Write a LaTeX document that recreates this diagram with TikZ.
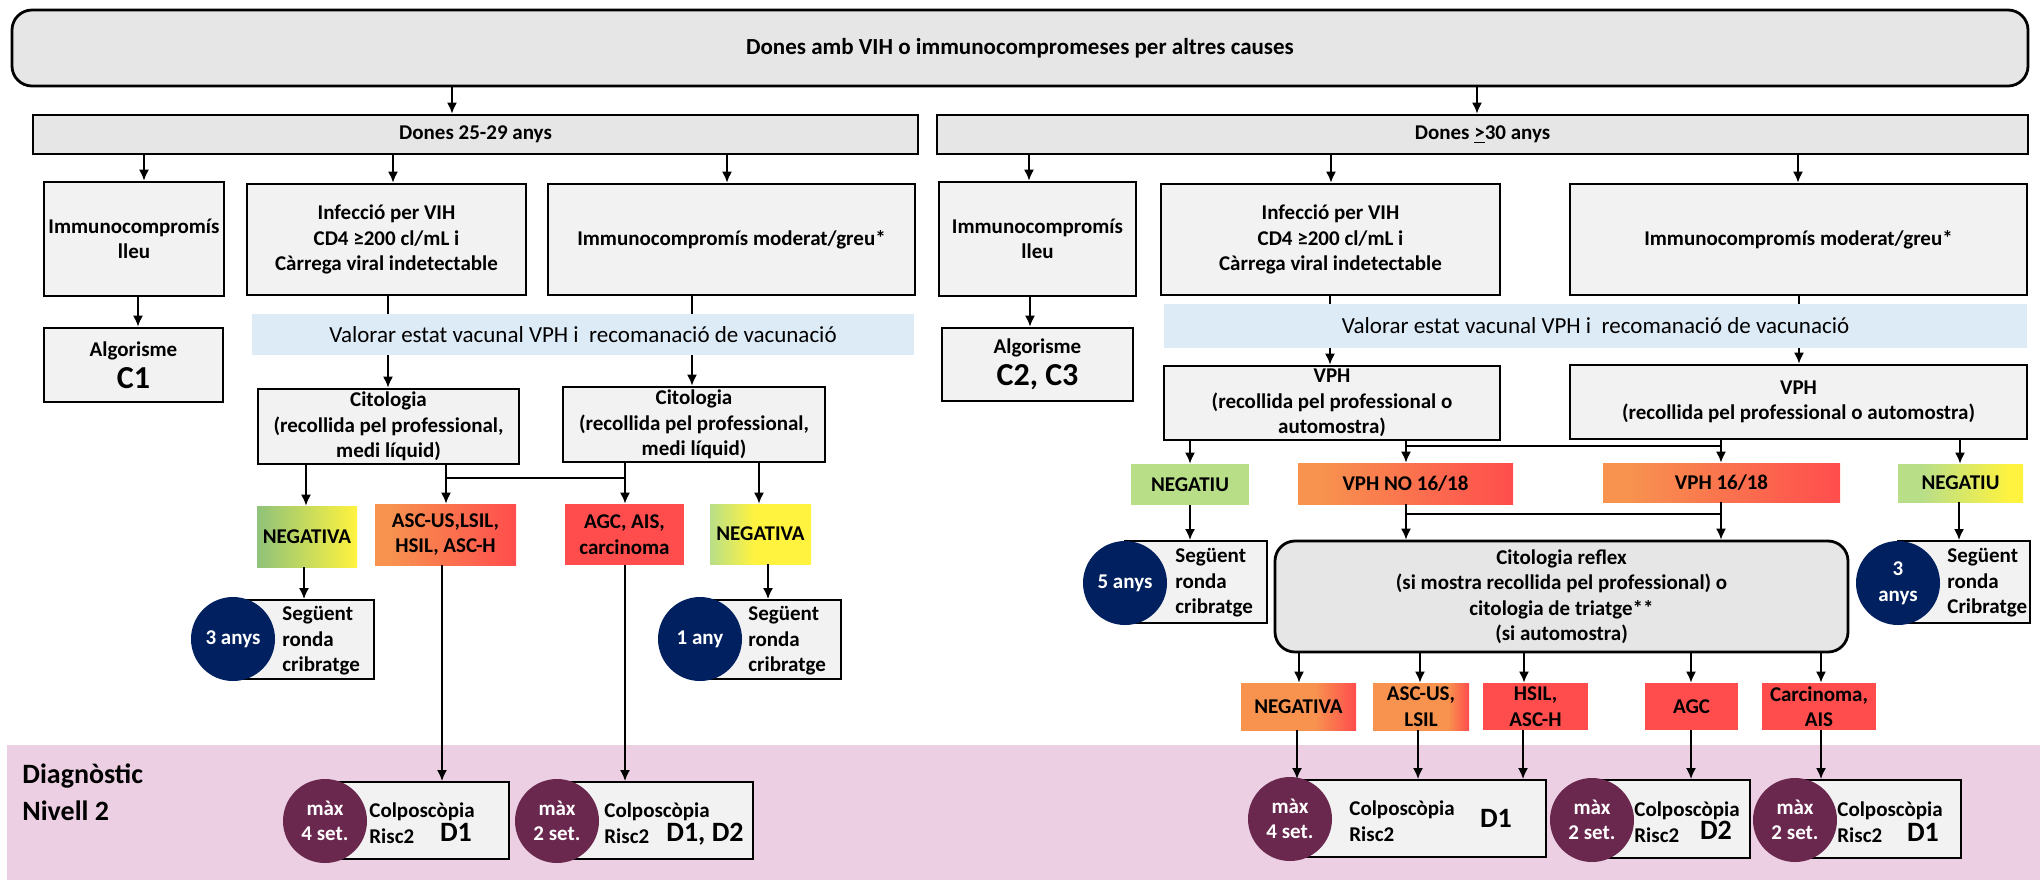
\documentclass[tikz,border=0pt]{standalone}
\usepackage{fontspec}
\setmainfont{Carlito}
\usetikzlibrary{arrows.meta}

\definecolor{boxgray}{HTML}{F2F2F2}
\definecolor{headgray}{HTML}{E6E6E6}
\definecolor{barblue}{HTML}{DDEBF7}
\definecolor{navy}{HTML}{002060}
\definecolor{plum}{HTML}{6B284F}
\definecolor{band}{HTML}{ECCFE3}
\definecolor{okgreen}{HTML}{8FC27A}
\definecolor{litegreen}{HTML}{B9DE88}
\definecolor{yel}{HTML}{FFF33F}
\definecolor{orng}{HTML}{F7934F}
\definecolor{redd}{HTML}{FF4D4D}

% horizontal shadings (path spans 25bp..75bp)
\pgfdeclarehorizontalshading{gy}{100bp}{color(0bp)=(okgreen); color(25bp)=(okgreen); color(75bp)=(yel); color(100bp)=(yel)}
\pgfdeclarehorizontalshading{gyfast}{100bp}{color(0bp)=(litegreen); color(25bp)=(litegreen); color(47bp)=(yel); color(100bp)=(yel)}
\pgfdeclarehorizontalshading{gyslow}{100bp}{color(0bp)=(litegreen); color(35bp)=(litegreen); color(70bp)=(yel); color(100bp)=(yel)}
\pgfdeclarehorizontalshading{orrd}{100bp}{color(0bp)=(orng); color(30bp)=(orng); color(75bp)=(redd); color(100bp)=(redd)}
\pgfdeclarehorizontalshading{orrdlate}{100bp}{color(0bp)=(orng); color(57bp)=(orng); color(75bp)=(redd); color(100bp)=(redd)}
\pgfdeclarehorizontalshading{orrdedge}{100bp}{color(0bp)=(orng); color(64bp)=(orng); color(75bp)=(redd); color(100bp)=(redd)}

\newcommand\ftB{\fontsize{10.5}{12.75}\selectfont\bfseries}
\newcommand\ftH{\fontsize{11.5}{13}\selectfont\bfseries}
\newcommand\ftR{\fontsize{11.5}{13}\selectfont}
\newcommand\ftD{\fontsize{14}{14}\selectfont\bfseries}
\newcommand\ftC{\fontsize{16}{16}\selectfont\bfseries}
\newcommand\ftN{\fontsize{14}{18.5}\selectfont\bfseries}

% vertical connector at a given x between two named nodes
\newcommand\vlink[4][arr]{\draw[#1] (#2.south -| #4,0) -- (#3.north -| #4,0);}

\tikzset{
  R/.style n args={4}{at={({(#1+#3)/2},{(#2+#4)/2})},
    minimum width={(#3-#1)*0.5pt}, minimum height={(#4-#2)*0.5pt}},
  box/.style={draw, line width=1.4pt, fill=boxgray, inner sep=0pt, align=center, font=\ftB},
  thinbox/.style={draw, line width=1pt, fill=boxgray, inner sep=0pt},
  res/.style={inner sep=0pt, align=center, font=\ftB},
  navydot/.style={circle, fill=navy, text=white, minimum size=42pt, inner sep=0pt, align=center, font=\ftB},
  plumdot/.style={circle, fill=plum, text=white, minimum size=42pt, inner sep=0pt, align=center, font=\ftB},
  lbl/.style={anchor=west, align=left, inner sep=0pt, font=\ftB},
  arr/.style={-{Latex[length=5.5pt,width=5pt]}, line width=0.8pt},
  ln/.style={line width=0.8pt},
}

\begin{document}
\begin{tikzpicture}[x=0.5pt,y=-0.5pt]
\useasboundingbox (0,0) rectangle (2040,880);

% level-2 diagnosis band
\fill[band] (7,745) rectangle (2040,880);
\node[anchor=west, align=left, inner sep=0pt, font=\ftN] (nivell) at (22,792) {Diagnòstic\\Nivell 2};

% headers
\node[box, fill=headgray, rounded corners=10pt, R={12}{10}{2028}{86}, font=\ftH] (top) {Dones amb VIH o immunocompromeses per altres causes};
\node[box, fill=headgray, R={33}{115}{918}{154}] (d25) {Dones 25-29 anys};
\node[box, fill=headgray, R={937}{115}{2028}{154}] (d30) {Dones \underline{>}30 anys};
\vlink{top}{d25}{452}
\vlink{top}{d30}{1477}

% groups
\node[box, R={44}{182}{224}{296}] (L1) {Immunocompromís\\lleu};
\node[box, R={247}{184}{526}{295}] (L2) {Infecció per VIH\\CD4 ≥200 cl/mL i\\Càrrega viral indetectable};
\node[box, R={548}{184}{915}{295}] (L3) {Immunocompromís moderat/greu*};
\node[box, R={939}{182}{1136}{296}] (R1) {Immunocompromís\\lleu};
\node[box, R={1161}{184}{1500}{295}] (R2) {Infecció per VIH\\CD4 ≥200 cl/mL i\\Càrrega viral indetectable};
\node[box, R={1570}{184}{2027}{295}] (R3) {Immunocompromís moderat/greu*};
\vlink{d25}{L1}{144}
\vlink{d25}{L2}{393}
\vlink{d25}{L3}{727}
\vlink{d30}{R1}{1029}
\vlink{d30}{R2}{1331}
\vlink{d30}{R3}{1798}

% algorithms
\node[box, R={44}{328}{223}{402}] (AL) {Algorisme\\[3pt]{\ftC C1}};
\node[box, R={942}{328}{1133}{401}] (AR) {Algorisme\\[3pt]{\ftC C2, C3}};
\vlink{L1}{AL}{138}
\vlink{R1}{AR}{1030}

% vaccination bars
\node[fill=barblue, inner sep=0pt, R={252}{314}{914}{355}, font=\ftR] (VL) {Valorar estat vacunal VPH i\ \ recomanació de vacunació};
\node[fill=barblue, inner sep=0pt, R={1164}{304}{2027}{348}, font=\ftR] (VR) {Valorar estat vacunal VPH i\ \ recomanació de vacunació};
\vlink[ln]{L2}{VL}{388}
\vlink[ln]{L3}{VL}{692}
\vlink[ln]{R2}{VR}{1330}
\vlink[ln]{R3}{VR}{1799}

% tests
\node[box, R={258}{389}{519}{464}] (CL) {Citologia\\(recollida pel professional,\\medi líquid)};
\node[box, R={563}{387}{825}{462}] (CR) {Citologia\\(recollida pel professional,\\medi líquid)};
\node[box, R={1164}{366}{1500}{440}] (PL) {VPH\\(recollida pel professional o\\automostra)};
\node[box, R={1570}{365}{2027}{439}] (PR) {VPH\\(recollida pel professional o automostra)};
\vlink{VL}{CL}{388}
\vlink{VL}{CR}{692}
\vlink{VR}{PL}{1330}
\vlink{VR}{PR}{1799}

% cytology results (25-29)
\node[res, shade, shading=gy, R={257}{506}{357}{567}] (NL1) {NEGATIVA};
\node[res, shade, shading=orrd, R={375}{504}{516}{565}] (AS) {ASC-US,LSIL,\\HSIL, ASC-H};
\node[res, fill=redd, R={565}{504}{684}{565}] (AG) {AGC, AIS,\\carcinoma};
\node[res, shade, shading=gyfast, R={710}{504}{811}{564}] (NL2) {NEGATIVA};
\coordinate (jL) at (446,478);
\coordinate (jR) at (625,478);
\vlink{CL}{NL1}{306}
\vlink{CL}{AS}{446}
\vlink{CR}{AG}{625}
\vlink{CR}{NL2}{759}
\draw[ln] (jL) -- (jR);

% HPV results (30+)
\node[res, fill=litegreen, R={1131}{464}{1249}{505}] (NU1) {NEGATIU};
\node[res, shade, shading=orrd, R={1298}{463}{1513}{504}] (NO) {VPH NO 16/18};
\node[res, shade, shading=orrd, R={1603}{463}{1840}{502}] (V16) {VPH 16/18};
\node[res, shade, shading=gyslow, R={1898}{464}{2023}{502}] (NU2) {NEGATIU};
\coordinate (hL) at (1406,446);
\coordinate (hR) at (1721,446);
\vlink{PL}{NU1}{1190}
\vlink{PL}{NO}{1406}
\vlink{PR}{V16}{1721}
\vlink{PR}{NU2}{1960}
\draw[ln] (hL) -- (hR);

% reflex cytology
\node[box, fill=headgray, rounded corners=10pt, R={1275}{541}{1848}{652}] (CRX) {Citologia reflex\\(si mostra recollida pel professional) o\\citologia de triatge**\\(si automostra)};
\coordinate (rL) at (1406,514);
\coordinate (rR) at (1721,514);
\vlink{NO}{CRX}{1406}
\vlink{V16}{CRX}{1721}
\draw[ln] (rL) -- (rR);

% next screening round
\node[thinbox, R={233}{600}{374}{679}] (S1) {};
\node[lbl] (S1t) at (282,641) {Següent\\ronda\\cribratge};
\node[navydot] (S1c) at (233,639) {3 anys};
\node[thinbox, R={700}{600}{841}{679}] (S2) {};
\node[lbl] (S2t) at (748,641) {Següent\\ronda\\cribratge};
\node[navydot] (S2c) at (700,639) {1 any};
\node[thinbox, R={1125}{541}{1267}{623}] (S3) {};
\node[lbl] (S3t) at (1175,583) {Següent\\ronda\\cribratge};
\node[navydot] (S3c) at (1125,583) {5 anys};
\node[thinbox, R={1898}{541}{2030}{623}] (S4) {};
\node[lbl] (S4t) at (1947,583) {Següent\\ronda\\Cribratge};
\node[navydot] (S4c) at (1898,583) {3\\anys};
\vlink{NL1}{S1}{304}
\vlink{NL2}{S2}{768}
\vlink{NU1}{S3}{1190}
\vlink{NU2}{S4}{1959}

% reflex cytology results
\node[res, shade, shading=orrdlate, R={1241}{683}{1356}{730}] (RN) {NEGATIVA};
\node[res, shade, shading=orrdedge, R={1373}{683}{1469}{730}] (RA) {ASC-US,\\LSIL};
\node[res, fill=redd, R={1483}{683}{1588}{730}] (RH) {HSIL,\\ASC-H};
\node[res, fill=redd, R={1645}{683}{1738}{730}] (RG) {AGC};
\node[res, fill=redd, R={1762}{683}{1876}{730}] (RC) {Carcinoma,\\AIS};
\vlink{CRX}{RN}{1299}
\vlink{CRX}{RA}{1420}
\vlink{CRX}{RH}{1524}
\vlink{CRX}{RG}{1691}
\vlink{CRX}{RC}{1821}

% colposcopy
\node[thinbox, R={325}{782}{509}{859}] (B1) {};
\node[lbl] (B1t) at (369,823) {Colposcòpia\\Risc2};
\node[font=\ftD, inner sep=0pt] (B1d) at (456,832) {D1};
\node[plumdot] (B1c) at (325,821) {màx\\4 set.};
\node[thinbox, R={557}{782}{753}{859}] (B2) {};
\node[lbl] (B2t) at (604,823) {Colposcòpia\\Risc2};
\node[font=\ftD, inner sep=0pt] (B2d) at (705,834) {D1, D2};
\node[plumdot] (B2c) at (557,821) {màx\\2 set.};
\node[thinbox, R={1290}{780}{1546}{857}] (B3) {};
\node[lbl] (B3t) at (1349,821) {Colposcòpia\\Risc2};
\node[font=\ftD, inner sep=0pt] (B3d) at (1496,818) {D1};
\node[plumdot] (B3c) at (1290,819) {màx\\4 set.};
\node[thinbox, R={1592}{780}{1750}{858}] (B4) {};
\node[lbl] (B4t) at (1634,822) {Colposcòpia\\Risc2};
\node[font=\ftD, inner sep=0pt] (B4d) at (1716,830) {D2};
\node[plumdot] (B4c) at (1592,820) {màx\\2 set.};
\node[thinbox, R={1795}{780}{1961}{858}] (B5) {};
\node[lbl] (B5t) at (1837,822) {Colposcòpia\\Risc2};
\node[font=\ftD, inner sep=0pt] (B5d) at (1923,832) {D1};
\node[plumdot] (B5c) at (1795,820) {màx\\2 set.};

\vlink{AS}{B1}{442}
\vlink{AG}{B2}{625}
\vlink{RN}{B3}{1297}
\vlink{RA}{B3}{1418}
\vlink{RH}{B3}{1523}
\vlink{RG}{B4}{1691}
\vlink{RC}{B5}{1821}
\end{tikzpicture}
\end{document}
